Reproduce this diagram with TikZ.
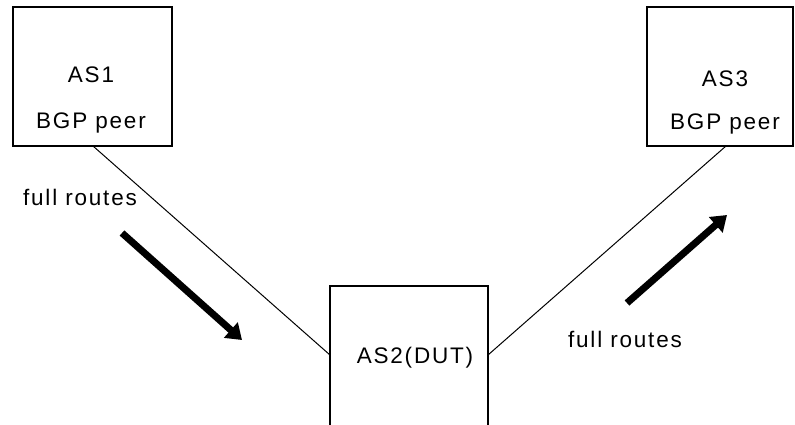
\documentclass[tikz,border=0pt]{standalone}
\usepackage{fontspec}
\setmainfont{Liberation Sans}[LetterSpace=8]
\usetikzlibrary{arrows.meta}
\begin{document}
\begin{tikzpicture}[x=1pt,y=-1pt,
  box/.style={draw, line width=1.3pt, inner sep=0pt},
  lbl/.style={anchor=base, inner sep=0pt, font=\fontsize{22.5}{27}\selectfont},
  conn/.style={line width=1pt},
  bigarrow/.style={line width=7pt, -{Triangle[length=15pt,width=20pt]}}]
\useasboundingbox (0,0) rectangle (795,425);
\clip (0,0) rectangle (795,425);
\node[box, minimum width=159pt, minimum height=139pt] (as1) at (92.5,76.5) {};
\node[box, minimum width=146pt, minimum height=139pt] (as3) at (720,76.5) {};
\node[box, minimum width=158pt, minimum height=170pt] (as2) at (409,371) {};
\node[lbl] (as1a) at (91,83) {AS1};
\node[lbl] (as1b) at (91,129) {BGP peer};
\node[lbl] (as3a) at (725,87) {AS3};
\node[lbl] (as3b) at (725,130) {BGP peer};
\node[lbl] (as2a) at (415,363) {AS2(DUT)};
\node[lbl] (fr1) at (80,205) {full routes};
\node[lbl] (fr2) at (625,347) {full routes};
\coordinate (c1) at (93,146);
\coordinate (c2) at (726,146);
\coordinate (c3) at (330,355);
\coordinate (c4) at (488,355);
\draw[conn] (c1) -- (c3);
\draw[conn] (c2) -- (c4);
\coordinate (a1s) at (122,233);
\coordinate (a1e) at (242,340);
\coordinate (a2s) at (627,303);
\coordinate (a2e) at (727,215);
\draw[bigarrow] (a1s) -- (a1e);
\draw[bigarrow] (a2s) -- (a2e);
\end{tikzpicture}
\end{document}
